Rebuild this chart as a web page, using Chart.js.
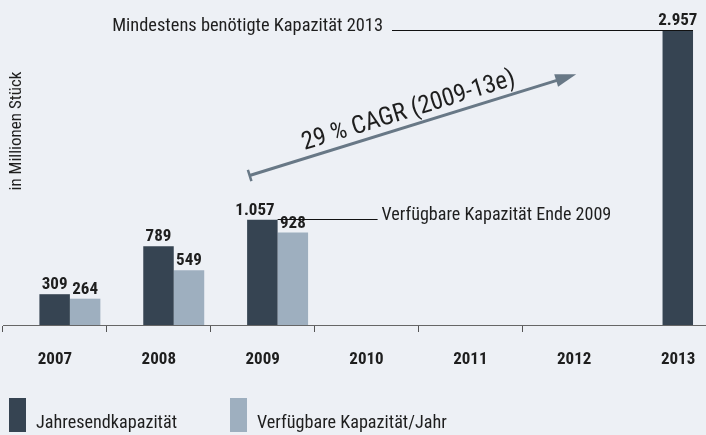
<!DOCTYPE html>
<html>
<head>
<meta charset="utf-8">
<script src="https://cdn.jsdelivr.net/npm/chart.js@4.4.1/dist/chart.umd.min.js"></script>
<style>
  html, body { margin: 0; padding: 0; background: #edf0f5; }
  #wrap { position: relative; width: 706px; height: 435px; overflow: hidden; background: #edf0f5; }
  #c { position: absolute; left: 0; top: 0; }
</style>
</head>
<body>
<div id="wrap"><canvas id="c" width="730" height="435"></canvas></div>
<script>
// ---- data ----
const categories = ['2007', '2008', '2009', '2010', '2011', '2012', '2013'];
const jahresendkapazitaet = [309, 789, 1057, null, null, null, 2957];
const verfuegbareKapazitaet = [264, 549, 928, null, null, null, null];
const seriesNames = ['Jahresendkapazität', 'Verfügbare Kapazität/Jahr'];
const yAxisTitle = 'in Millionen Stück';
const noteRequired = 'Mindestens benötigte Kapazität 2013';
const noteAvailable = 'Verfügbare Kapazität Ende 2009';
const cagrText = '29 % CAGR (2009-13e)';
const arrowFrom = { cat: '2009', value: 1500 };
const arrowTo = { cat: '2012', value: 2515 };

const DARK = '#364452';
const LIGHT = '#9eafbf';
const TEXT = '#1e1e1e';
const COND = "'Roboto Condensed', 'DejaVu Sans Condensed', sans-serif";

function fmt(v) { return String(v).replace(/\B(?=(\d{3})+(?!\d))/g, '.'); }
const toPoints = arr => categories.map((c, i) => ({ x: Number(c), y: arr[i] }));

const annotations = {
  id: 'annotations',
  afterDatasetsDraw(chart) {
    const ctx = chart.ctx;
    const x = chart.scales.x, y = chart.scales.y;
    const m0 = chart.getDatasetMeta(0), m1 = chart.getDatasetMeta(1);
    const i2009 = categories.indexOf('2009');
    ctx.save();
    // value labels
    ctx.fillStyle = TEXT;
    ctx.font = "bold 17px " + COND;
    ctx.textBaseline = 'alphabetic';
    [m0, m1].forEach((meta, di) => {
      const arr = di === 0 ? jahresendkapazitaet : verfuegbareKapazitaet;
      meta.data.forEach((el, i) => {
        if (arr[i] == null) return;
        if (di === 0 && i === i2009) {
          ctx.textAlign = 'right';
          ctx.fillText(fmt(arr[i]), el.x + el.width / 2 - 3, el.y - 5);
        } else {
          ctx.textAlign = 'center';
          ctx.fillText(fmt(arr[i]), el.x, el.y - 5);
        }
      });
    });
    // lines to notes
    ctx.strokeStyle = '#111';
    ctx.lineWidth = 1;
    const b2013 = m0.data[categories.indexOf('2013')];
    const r2013 = b2013.x + b2013.width / 2;
    const b2009 = m0.data[i2009];
    const r2009 = b2009.x + b2009.width / 2;
    ctx.font = "18.4px " + COND;
    ctx.textAlign = 'right';
    const reqRight = 383;
    ctx.fillText(noteRequired, reqRight, Math.round(b2013.y) + 1);
    ctx.beginPath();
    ctx.moveTo(reqRight + 9, Math.round(b2013.y) + 0.5);
    ctx.lineTo(r2013, Math.round(b2013.y) + 0.5);
    ctx.stroke();
    ctx.textAlign = 'left';
    ctx.font = "18.1px " + COND;
    const availLeft = r2009 + 104;
    ctx.fillText(noteAvailable, availLeft, Math.round(b2009.y));
    ctx.beginPath();
    ctx.moveTo(r2009, Math.round(b2009.y) - 0.5);
    ctx.lineTo(availLeft - 4, Math.round(b2009.y) - 0.5);
    ctx.stroke();
    // arrow
    const x1 = x.getPixelForValue(categories.indexOf(arrowFrom.cat)) - 13;
    const y1 = y.getPixelForValue(arrowFrom.value);
    const x2 = x.getPixelForValue(categories.indexOf(arrowTo.cat)) + 2;
    const y2 = y.getPixelForValue(arrowTo.value);
    const ang = Math.atan2(y2 - y1, x2 - x1);
    const ux = Math.cos(ang), uy = Math.sin(ang);
    const px = -uy, py = ux;
    ctx.strokeStyle = '#687886';
    ctx.fillStyle = '#687886';
    ctx.lineWidth = 3;
    ctx.beginPath();
    ctx.moveTo(x1, y1);
    ctx.lineTo(x2 - ux * 16, y2 - uy * 16);
    ctx.stroke();
    ctx.lineWidth = 2.5;
    ctx.beginPath();
    ctx.moveTo(x1 + px * 6, y1 + py * 6);
    ctx.lineTo(x1 - px * 6, y1 - py * 6);
    ctx.stroke();
    ctx.beginPath();
    ctx.moveTo(x2, y2);
    ctx.lineTo(x2 - ux * 21 + px * 6.5, y2 - uy * 21 + py * 6.5);
    ctx.lineTo(x2 - ux * 21 - px * 6.5, y2 - uy * 21 - py * 6.5);
    ctx.closePath();
    ctx.fill();
    // CAGR text
    const mx = (x1 + x2) / 2 - px * 8, my = (y1 + y2) / 2 - py * 8;
    ctx.translate(mx, my);
    ctx.rotate(ang);
    ctx.fillStyle = TEXT;
    ctx.font = "25px " + COND;
    ctx.textAlign = 'center';
    ctx.textBaseline = 'alphabetic';
    ctx.fillText(cagrText, 0, 0);
    ctx.restore();
    // y title
    ctx.save();
    ctx.translate(17, 131);
    ctx.rotate(-Math.PI / 2);
    ctx.fillStyle = TEXT;
    ctx.font = "17px " + COND;
    ctx.textAlign = 'center';
    ctx.textBaseline = 'middle';
    ctx.fillText(yAxisTitle, 0, 0);
    ctx.restore();
    // legend
    ctx.save();
    const legendX = [9, 230];
    chart.data.datasets.forEach((ds, i) => {
      ctx.fillStyle = ds.backgroundColor;
      ctx.fillRect(legendX[i], 398, 17, 34);
      ctx.fillStyle = TEXT;
      ctx.font = "18.2px " + COND;
      ctx.textAlign = 'left';
      ctx.textBaseline = 'alphabetic';
      ctx.fillText(ds.label, legendX[i] + 27, 428);
    });
    ctx.restore();
  }
};

new Chart(document.getElementById('c'), {
  type: 'bar',
  data: {
    labels: categories,
    datasets: [
      { label: seriesNames[0], data: toPoints(jahresendkapazitaet), backgroundColor: DARK, xAxisID: 'xb' },
      { label: seriesNames[1], data: toPoints(verfuegbareKapazitaet), backgroundColor: LIGHT, xAxisID: 'xb' }
    ]
  },
  options: {
    responsive: false,
    animation: false,
    events: [],
    layout: { padding: { left: 3, right: 0, top: 26, bottom: 0 } },
    datasets: { bar: { categoryPercentage: 0.587, barPercentage: 1.0, borderWidth: 0 } },
    plugins: { legend: { display: false }, tooltip: { enabled: false }, title: { display: false } },
    scales: {
      x: {
        type: 'category',
        labels: categories,
        offset: true,
        position: 'bottom',
        grid: {
          offset: true, drawOnChartArea: false, tickLength: 7, lineWidth: 1,
          color: c => (c.index === 6 ? 'rgba(0,0,0,0)' : '#555')
        },
        border: { display: true, color: '#666', width: 1 },
        ticks: { color: TEXT, font: { family: COND, size: 17, weight: 'bold' }, padding: 18, maxRotation: 0, autoSkip: false },
        afterFit(scale) { scale.height = 110; }
      },
      xb: {
        type: 'linear',
        display: false,
        offset: false,
        grid: { offset: false },
        min: 2006.356,
        max: 2013.356
      },
      y: { display: false, min: 0, max: 3000 }
    }
  },
  plugins: [annotations]
});
</script>
</body>
</html>
